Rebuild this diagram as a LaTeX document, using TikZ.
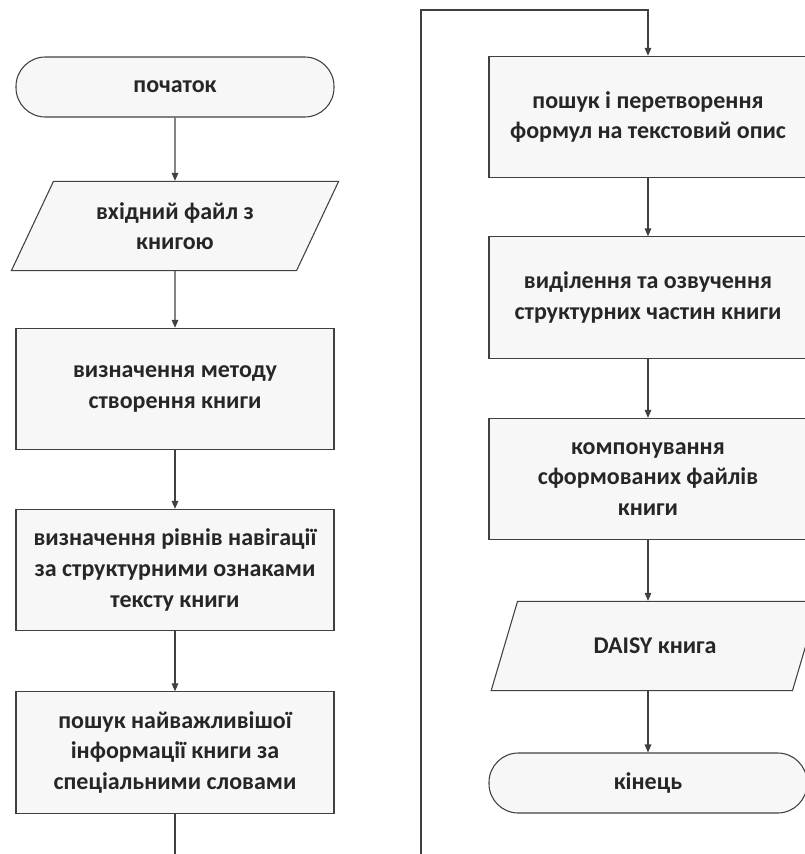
\documentclass[tikz,border=0pt]{standalone}
\usepackage{fontspec}
\setmainfont{Carlito}
\usetikzlibrary{positioning, shapes.geometric, arrows.meta}

\begin{document}
\begin{tikzpicture}[x=0.75pt, y=-0.75pt,
    every node/.style={font=\bfseries\fontsize{18}{23}\selectfont, text=black!85, align=center},
    block/.style={rectangle, draw=black!75, fill=gray!6, line width=0.8pt, minimum width=238.5pt, minimum height=91pt},
    termnode/.style={rectangle, rounded corners=22pt, draw=black!75, fill=gray!6, line width=0.8pt, minimum width=238.5pt, minimum height=45pt},
    ionode/.style={trapezium, trapezium left angle=63, trapezium right angle=117, trapezium stretches=true, draw=black!75, fill=gray!6, line width=0.8pt, minimum width=246pt, minimum height=67pt},
    link/.style={draw=black!75, line width=0.8pt},
    arrow/.style={link, -{Triangle[length=6pt, width=5pt]}}]

    \useasboundingbox (0,0) rectangle (805,854);

    % left column
    \node[termnode] (start) at (175,87) {початок};
    \node[ionode] (input) at (175,226) {вхідний файл з\\книгою};
    \node[block] (method) at (175,389) {визначення методу\\створення книги};
    \node[block] (levels) at (175,570) {визначення рівнів навігації\\за структурними ознаками\\тексту книги};
    \node[block] (search) at (175,752.5) {пошук найважливішої\\інформації книги за\\спеціальними словами};
    \coordinate (cutleft) at (175,854);

    % right column
    \coordinate (cutright) at (421,854);
    \coordinate (turnleft) at (421,10);
    \coordinate (turnright) at (648,10);
    \node[block] (formulas) at (648,117) {пошук і перетворення\\формул на текстовий опис};
    \node[block] (voice) at (648,297.5) {виділення та озвучення\\структурних частин книги};
    \node[block] (compose) at (648,479) {компонування\\сформованих файлів\\книги};
    \node[ionode] (daisy) at (655,646) {DAISY книга};
    \node[termnode] (finish) at (648,783) {кінець};

    \draw[arrow] (start) -- (input);
    \draw[arrow] (input) -- (method);
    \draw[arrow] (method) -- (levels);
    \draw[arrow] (levels) -- (search);
    \draw[link] (search) -- (cutleft);

    \draw[arrow] (cutright) -- (turnleft) -- (turnright) -- (formulas);
    \draw[arrow] (formulas) -- (voice);
    \draw[arrow] (voice) -- (compose);
    \draw[arrow] (compose) -- (compose |- daisy.north);
    \draw[arrow] (daisy.south -| finish) -- (finish);
\end{tikzpicture}
\end{document}
